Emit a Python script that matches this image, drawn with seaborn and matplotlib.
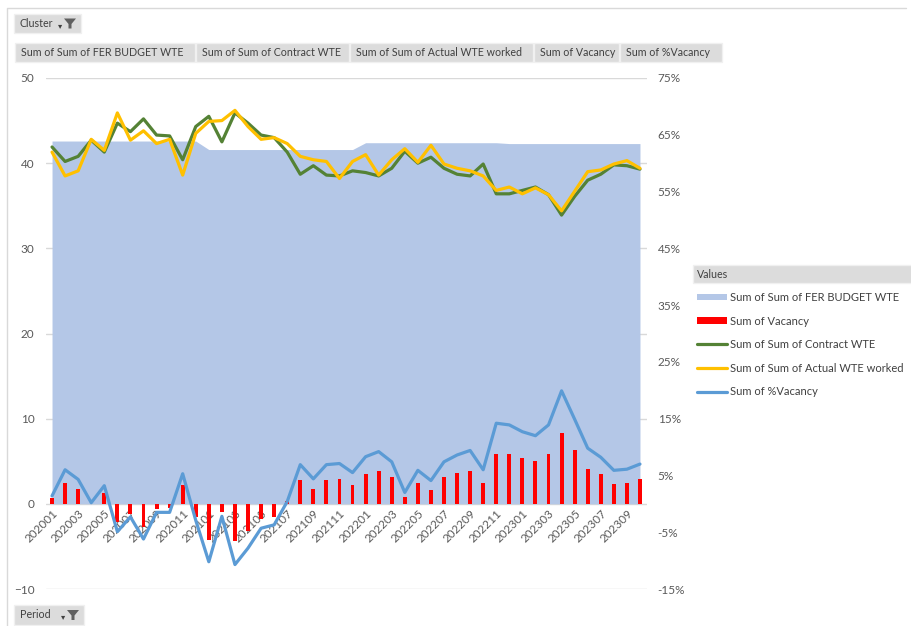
import pandas as pd
import matplotlib.pyplot as plt
import seaborn as sns
from matplotlib.patches import Rectangle, Polygon, Patch
from matplotlib.lines import Line2D

periods = [f"{y}{m:02d}" for y in (2020, 2021, 2022, 2023) for m in range(1, 13)][:46]

budget = [42.6, 42.6, 42.6, 42.6, 42.6, 42.6, 42.6, 42.6, 42.6, 42.6, 42.6, 42.6,
          41.6, 41.6, 41.6, 41.6, 41.6, 41.6, 41.6, 41.6, 41.6, 41.6, 41.6, 41.6,
          42.4, 42.4, 42.4, 42.4, 42.4, 42.4, 42.4, 42.4, 42.4, 42.4, 42.4, 42.3,
          42.3, 42.3, 42.3, 42.3, 42.3, 42.3, 42.3, 42.3, 42.3, 42.3]
contract = [41.9, 40.2, 40.8, 42.7, 41.3, 44.7, 43.7, 45.2, 43.3, 43.2,
            40.4, 44.3, 45.5, 42.5, 45.9, 44.7, 43.3, 43.0, 41.3, 38.7,
            39.7, 38.6, 38.5, 39.1, 38.9, 38.5, 39.4, 41.4, 40.0, 40.7,
            39.4, 38.7, 38.5, 39.9, 36.4, 36.4, 36.8, 37.2, 36.3, 33.9,
            36.1, 38.0, 38.7, 39.8, 39.7, 39.3]
actual = [41.3, 38.5, 39.1, 42.8, 41.5, 45.9, 42.7, 43.8, 42.3, 42.8,
          38.6, 43.5, 44.9, 45.0, 46.2, 44.3, 42.8, 43.0, 42.3, 40.8,
          40.4, 40.2, 38.2, 40.2, 41.0, 38.6, 40.4, 41.7, 40.1, 42.1,
          39.9, 39.4, 39.1, 38.5, 36.8, 37.2, 36.4, 37.1, 36.3, 34.4,
          36.7, 39.0, 39.2, 39.9, 40.3, 39.4]
vacancy = [0.7, 2.4, 1.8, 0.0, 1.3, -2.1, -1.2, -2.7, -0.6, -0.5,
           2.2, -1.6, -4.3, -1.0, -4.4, -3.2, -1.8, -1.5, 0.3, 2.8,
           1.8, 2.8, 2.9, 2.2, 3.5, 3.9, 3.1, 0.8, 2.4, 1.6,
           3.1, 3.6, 3.9, 2.5, 5.9, 5.9, 5.4, 5.0, 5.8, 8.3,
           6.3, 4.1, 3.5, 2.3, 2.5, 2.9]
pct_vacancy = [1.4, 6.0, 4.3, 0.2, 3.2, -4.9, -2.3, -6.2, -1.5, -1.5,
               5.3, -2.9, -10.2, -2.2, -10.7, -7.8, -4.3, -3.7, 0.4, 6.9,
               4.4, 6.9, 7.1, 5.5, 8.3, 9.2, 7.4, 2.0, 5.9, 4.1,
               7.4, 8.6, 9.4, 6.0, 14.2, 13.9, 12.7, 12.0, 13.9, 19.9,
               14.9, 9.8, 8.2, 5.9, 6.1, 7.0]

df = pd.DataFrame({'idx': range(len(periods)), 'period': periods, 'budget': budget,
                   'contract': contract, 'actual': actual, 'vacancy': vacancy,
                   'pct': pct_vacancy})

C_AREA = '#b4c7e7'
C_RED = '#ff0000'
C_GREEN = '#548235'
C_YELLOW = '#ffc000'
C_BLUE = '#5b9bd5'
C_TXT = '#595959'

sns.set_style('white')
plt.rcParams['font.family'] = ['Lato', 'DejaVu Sans']

W, H = 912, 626
fig = plt.figure(figsize=(W / 100, H / 100), dpi=100)


def fx(px):
    return px / W


def fy(py):
    return 1 - py / H


ax = fig.add_axes([fx(45.5), fy(589), fx(646.5) - fx(45.5), fy(78) - fy(589)])

ax.fill_between(df['idx'], 0, df['budget'], color=C_AREA, lw=0, zorder=1)
sns.barplot(data=df, x='idx', y='vacancy', native_scale=True, width=0.3,
            color=C_RED, saturation=1, errorbar=None, linewidth=0, ax=ax, zorder=2)
sns.lineplot(data=df, x='idx', y='contract', color=C_GREEN, lw=2.3, ax=ax, zorder=3)
sns.lineplot(data=df, x='idx', y='actual', color=C_YELLOW, lw=2.3, ax=ax, zorder=4)

ax2 = ax.twinx()
sns.lineplot(data=df, x='idx', y='pct', color=C_BLUE, lw=2.3, ax=ax2)
ax2.set_ylim(-15, 75)
ax2.set_yticks(range(-15, 76, 10))
ax2.set_yticklabels([f"{v}%" for v in range(-15, 76, 10)])
ax2.tick_params(axis='y', labelsize=8.5, labelcolor=C_TXT, length=0, pad=8)
ax2.set_ylabel('')
ax2.set_xlabel('')
for s in ax2.spines.values():
    s.set_visible(False)

# category axis crosses at zero, like the Excel chart
for s in ax.spines.values():
    s.set_visible(False)
ax.spines['bottom'].set_position(('data', 0))

ax.set_xlim(-0.5, 45.5)
ax.set_ylim(-10, 50)
ax.set_yticks(range(-10, 51, 10))
ax.set_xticks(range(0, 46, 2))
ax.set_xticklabels(periods[::2], rotation=45, ha='right', va='top',
                   rotation_mode='anchor', fontsize=8.5, color=C_TXT)
ax.tick_params(axis='y', labelsize=8.5, labelcolor=C_TXT, length=0, pad=8)
ax.tick_params(axis='x', length=0, pad=3)
ax.set_xlabel('')
ax.set_ylabel('')
ax.grid(axis='y', color='#d9d9d9', lw=1)
ax.set_axisbelow(True)

# outer frame (top and left edges only, the rest is cropped)
fig.lines.append(Line2D([fx(7), fx(7), fx(906)], [fy(626), fy(8), fy(8)],
                        transform=fig.transFigure, color='#d9d9d9', lw=1))


def button(x0, x1, y0, y1, text, funnel=False):
    fig.patches.append(Rectangle((fx(x0), fy(y1)), fx(x1) - fx(x0), fy(y0) - fy(y1),
                                 transform=fig.transFigure, facecolor='#dcdcdc',
                                 edgecolor='#f0f0f0', lw=1))
    fig.text(fx(x0 + 6), fy((y0 + y1) / 2), text, fontsize=7.7, color='#404040',
             va='center', ha='left')
    if funnel:
        fig.text(fx(x1 - 21), fy((y0 + y1) / 2 + 2), '▾', fontsize=6,
                 color='#404040', va='center', ha='center', family='DejaVu Sans')
        cy = (y0 + y1) / 2
        pts = [(x1 - 17, cy - 5), (x1 - 5, cy - 5), (x1 - 9.5, cy + 0.5),
               (x1 - 9.5, cy + 5), (x1 - 12.5, cy + 5), (x1 - 12.5, cy + 0.5)]
        fig.patches.append(Polygon([(fx(a), fy(b)) for a, b in pts], closed=True,
                                   transform=fig.transFigure, facecolor='#606060',
                                   edgecolor='none'))


button(14, 81, 14, 33, 'Cluster', funnel=True)
button(14, 84, 605, 625, 'Period', funnel=True)
button(15, 195, 43, 62, 'Sum of Sum of FER BUDGET WTE')
button(196, 349, 43, 62, 'Sum of Sum of Contract WTE')
button(350, 533, 43, 62, 'Sum of Sum of Actual WTE worked')
button(534, 619, 43, 62, 'Sum of Vacancy')
button(620, 722, 43, 62, 'Sum of %Vacancy')

# legend header
fig.patches.append(Rectangle((fx(693), fy(283)), fx(912) - fx(693), fy(265) - fy(283),
                             transform=fig.transFigure, facecolor='#dcdcdc',
                             edgecolor='#f0f0f0', lw=1))
fig.text(fx(697), fy(274), 'Values', fontsize=7.7, color='#404040', va='center')

handles = [Patch(facecolor=C_AREA, edgecolor='none'),
           Patch(facecolor=C_RED, edgecolor='none'),
           Line2D([], [], color=C_GREEN, lw=2.3),
           Line2D([], [], color=C_YELLOW, lw=2.3),
           Line2D([], [], color=C_BLUE, lw=2.3)]
labels = ['Sum of Sum of FER BUDGET WTE', 'Sum of Vacancy', 'Sum of Sum of Contract WTE',
          'Sum of Sum of Actual WTE worked', 'Sum of %Vacancy']
fig.legend(handles, labels, loc='upper left', bbox_to_anchor=(fx(697), fy(292)),
           frameon=False, fontsize=8, labelcolor='#404040', handlelength=2.7,
           handleheight=0.55, handletextpad=0.25, labelspacing=1.13,
           borderpad=0, borderaxespad=0)

fig.savefig('out.png', dpi=100)
